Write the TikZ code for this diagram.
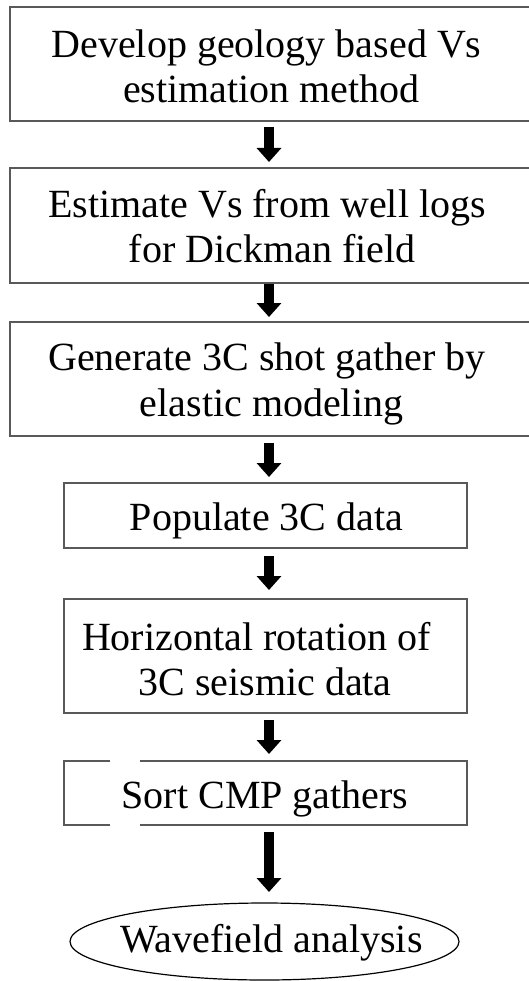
\documentclass[tikz,border=0pt]{standalone}
\usepackage{fontspec}
\setmainfont{Liberation Serif}
\usetikzlibrary{arrows.meta,shapes.geometric}
\begin{document}
\begin{tikzpicture}[x=1pt,y=-1pt,
  box/.style={draw=black!65,line width=1.6pt,rectangle,inner sep=0pt,outer sep=0pt},
  oval/.style={draw=black,line width=1.2pt,ellipse,inner sep=0pt,outer sep=0pt},
  lbl/.style={anchor=base,inner sep=0pt,font=\fontsize{40}{45}\selectfont},
  flow/.style={line width=10pt,-{Triangle[width=24pt,length=14pt]}}]
\useasboundingbox (0,0) rectangle (529,981);
\clip (0,0) rectangle (529,981);
\coordinate (ax) at (269,0);
% boxes
\node[box,minimum width=525pt,minimum height=114pt] (b1) at (272.5,64) {};
\node[box,minimum width=525pt,minimum height=115pt] (b2) at (272.5,225.5) {};
\node[box,minimum width=525pt,minimum height=114pt] (b3) at (272.5,379) {};
\node[box,minimum width=403pt,minimum height=65pt] (b4) at (265.5,515.5) {};
\node[box,minimum width=403pt,minimum height=114pt] (b5) at (265.5,656) {};
\node[box,minimum width=403pt,minimum height=64pt] (b6) at (265.5,793) {};
\fill[white] (110,756) rectangle (140,830);
\node[oval,minimum width=389pt,minimum height=77pt] (e) at (264.5,941.5) {};
% texts
\node[lbl] (t1a) at (266.5,58) {Develop geology based Vs};
\node[lbl] (t1b) at (271.5,103) {estimation method};
\node[lbl] (t2a) at (267,218) {Estimate Vs from well logs};
\node[lbl] (t2b) at (272,263) {for Dickman field};
\node[lbl] (t3a) at (267,370.5) {Generate 3C shot gather by};
\node[lbl] (t3b) at (271.5,416) {elastic modeling};
\node[lbl] (t4) at (266.5,530) {Populate 3C data};
\node[lbl] (t5a) at (256.5,650) {Horizontal rotation of};
\node[lbl] (t5b) at (265,695) {3C seismic data};
\node[lbl] (t6) at (265,808) {Sort CMP gathers};
\node[lbl] (te) at (271.5,952) {Wavefield analysis};
% arrows
\draw[flow,shorten <=6pt,shorten >=6pt] (b1.south -| ax) -- (b2.north -| ax);
\draw[flow,shorten <=1pt,shorten >=5pt] (b2.south -| ax) -- (b3.north -| ax);
\draw[flow,shorten <=7pt,shorten >=6pt] (b3.south -| ax) -- (b4.north -| ax);
\draw[flow,shorten <=8pt,shorten >=9pt] (b4.south -| ax) -- (b5.north -| ax);
\draw[flow,shorten <=7pt,shorten >=7pt] (b5.south -| ax) -- (b6.north -| ax);
\draw[flow,shorten <=7pt,shorten >=11pt] (b6.south -| ax) -- (e.north -| ax);
\end{tikzpicture}
\end{document}
